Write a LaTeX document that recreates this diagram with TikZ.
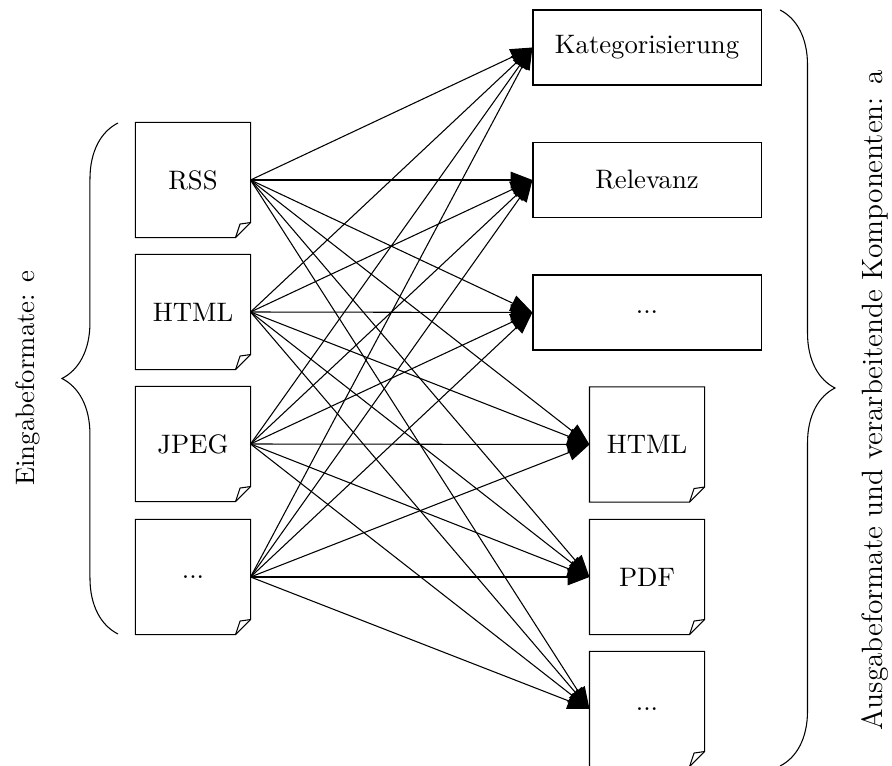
\documentclass[tikz,border=0pt]{standalone}
\usetikzlibrary{arrows.meta,decorations.pathreplacing,calc}
\begin{document}
\begin{tikzpicture}[x=0.3745pt,y=-0.3745pt,
  doc/.style={minimum width=42.7pt,minimum height=42.7pt,inner sep=0pt},
  proc/.style={draw,minimum width=85.4pt,minimum height=28.1pt,inner sep=0pt},
  flow/.style={-{Triangle[length=8.2pt,width=6.2pt]}},
  bracket/.style={decorate,decoration={brace,amplitude=#1}},
  sidelabel/.style={rotate=90,inner sep=0pt}]
\useasboundingbox (0,0) rectangle (892,766);

% input formats
\node[doc] (iRSS)  at (193,180) {RSS};
\node[doc] (iHTML) at (193,312) {HTML};
\node[doc] (iJPEG) at (193,444) {JPEG};
\node[doc] (iMore) at (193,577) {...};

% processing components
\node[proc] (oKat)  at (647,47.5)  {Kategorisierung};
\node[proc] (oRel)  at (647,180)   {Relevanz};
\node[proc] (oDots) at (647,312.5) {...};

% output formats
\node[doc] (oHTML) at (647,444.5) {HTML};
\node[doc] (oPDF)  at (647,577)   {PDF};
\node[doc] (oMore) at (647,709)   {...};

% document outlines with a folded corner
\foreach \n in {iRSS,iHTML,iJPEG,iMore,oHTML,oPDF,oMore}{
  \draw ($(\n.south east)+(0,-15)$) -- (\n.north east) -- (\n.north west)
        -- (\n.south west) -- ($(\n.south east)+(-15,0)$) -- cycle;
  \draw ($(\n.south east)+(-15,0)$) -- ($(\n.south east)+(-10.5,-13.5)$)
        -- ($(\n.south east)+(0,-15)$);
}

% every input feeds every output
\foreach \s in {iRSS,iHTML,iJPEG,iMore}
  \foreach \t in {oKat,oRel,oDots,oHTML,oPDF,oMore}
    \draw[flow] (\s.east) -- (\t.west);

% braces and their labels
\coordinate (inTop) at (118,123);
\coordinate (inBot) at (118,634);
\coordinate (outTop) at (780,10);
\coordinate (outBot) at (780,766);
\draw[bracket=21pt] (inBot) -- (inTop);
\draw[bracket=20.6pt] (outTop) -- (outBot);
\node[sidelabel] (inLabel) at (28,378) {Eingabeformate: e};
\node[sidelabel,font=\fontsize{11}{13}\selectfont] (outLabel) at (875,400)
  {Ausgabeformate und verarbeitende Komponenten: a};
\end{tikzpicture}
\end{document}
